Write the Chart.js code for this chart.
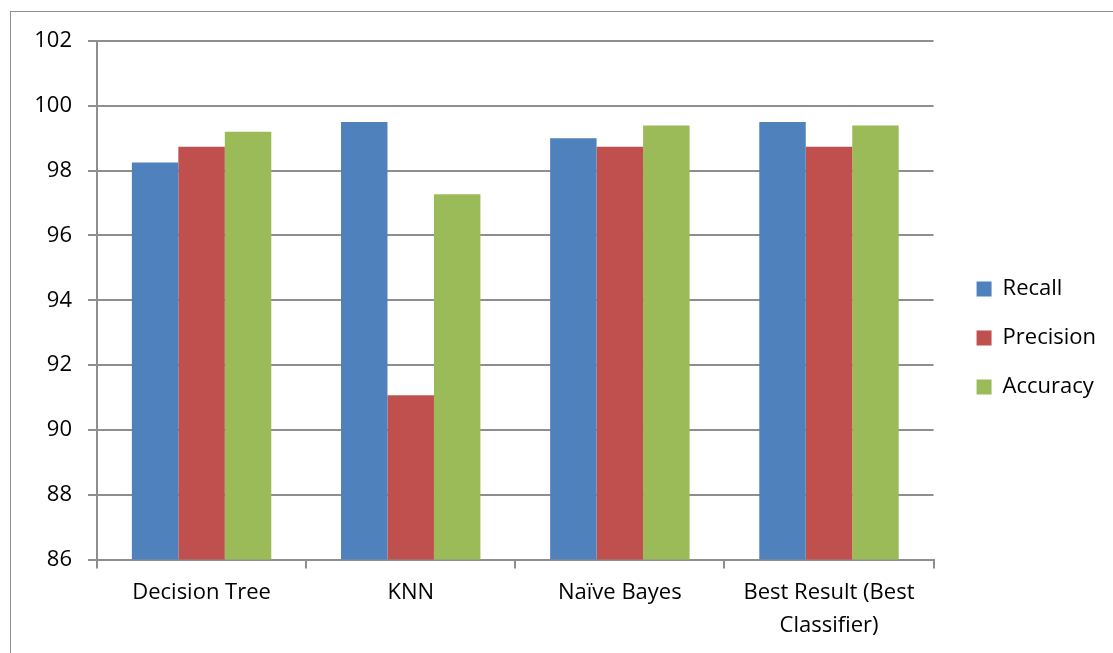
<!DOCTYPE html>
<html>
<head>
<meta charset="utf-8">
<script src="https://cdn.jsdelivr.net/npm/chart.js@4"></script>
<style>
  html, body { margin: 0; padding: 0; background: #fff; }
  #wrap { position: relative; width: 1113px; height: 653px; overflow: hidden; }
  #frame { position: absolute; left: 10px; top: 11px; width: 1200px; height: 700px;
           border-left: 1px solid #8e8e8e; border-top: 1px solid #8e8e8e; }
  #chart { position: absolute; left: 0; top: 0; }
</style>
</head>
<body>
<div id="wrap">
  <div id="frame"></div>
  <canvas id="chart" width="1113" height="653"></canvas>
</div>
<script>
// classifier comparison
const categories = ['Decision Tree', 'KNN', 'Naïve Bayes', ['Best Result (Best', 'Classifier)']];
const recall    = [98.25, 99.5, 99.0, 99.5];
const precision = [98.74, 91.07, 98.74, 98.74];
const accuracy  = [99.2, 97.27, 99.39, 99.39];
const yTicks = { min: 86, max: 102, step: 2 };

const font = 'Open Sans';
const gridCol = '#8e8e8e';

// invisible spacer axes, only there to push the plot area into place
const spacer = (position, size) => ({
  type: 'linear', position, display: true,
  grid: { display: false }, border: { display: false }, ticks: { display: false },
  afterFit: a => { if (a.isHorizontal()) a.height = size; else a.width = size; }
});

new Chart(document.getElementById('chart'), {
  type: 'bar',
  data: {
    labels: categories,
    datasets: [
      { label: 'Recall',    data: recall,    backgroundColor: '#4F81BD', borderWidth: 0 },
      { label: 'Precision', data: precision, backgroundColor: '#C0504D', borderWidth: 0 },
      { label: 'Accuracy',  data: accuracy,  backgroundColor: '#9BBB59', borderWidth: 0 }
    ]
  },
  options: {
    responsive: false,
    animation: false,
    devicePixelRatio: 1,
    layout: { padding: { left: 0, top: 23, right: 7, bottom: 0 } },
    datasets: { bar: { categoryPercentage: 3 / 4.5, barPercentage: 1 } },
    plugins: {
      tooltip: { enabled: false },
      legend: {
        position: 'right',
        labels: { color: '#000', font: { family: font, size: 22 },
                  boxWidth: 15, boxHeight: 15, padding: 27 }
      }
    },
    scales: {
      x: {
        grid: { offset: true, drawOnChartArea: false, drawTicks: true, tickLength: 9,
                color: gridCol, lineWidth: 2 },
        border: { color: gridCol, width: 2 },
        ticks: { color: '#000', font: { family: font, size: 22, lineHeight: 1.5 },
                 padding: 8, maxRotation: 0, autoSkip: false },
        afterFit: a => { a.height = 653 - 559.5; }
      },
      y: {
        min: yTicks.min, max: yTicks.max,
        grid: { color: gridCol, lineWidth: 2, tickLength: 9 },
        border: { color: gridCol, width: 2 },
        ticks: { stepSize: yTicks.step, color: '#000', font: { family: font, size: 22 }, padding: 16 },
        afterFit: a => { a.width = 97; }
      },
      xTop: spacer('top', 18),
      yRight: spacer('right', 16)
    }
  }
});
</script>
</body>
</html>
